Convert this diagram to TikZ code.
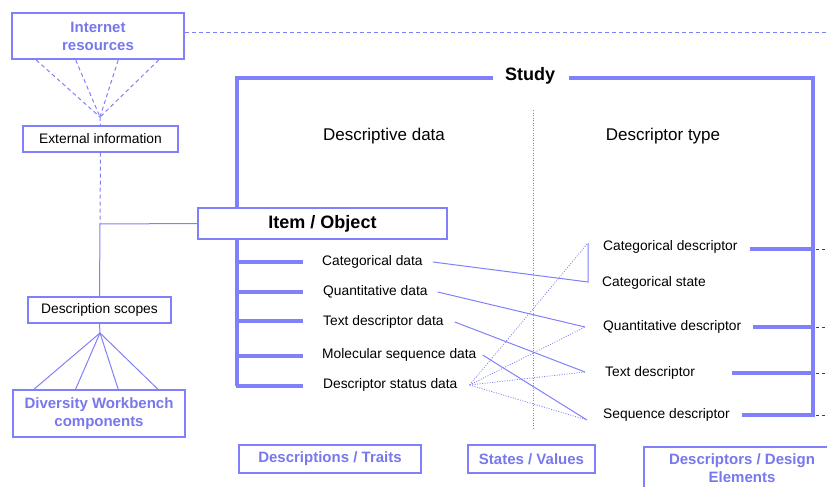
\documentclass[tikz,border=0pt]{standalone}
\usepackage{fontspec}
\setmainfont{Liberation Sans}
\usepackage{tikz}
\usetikzlibrary{calc}

\definecolor{dwline}{RGB}{128,128,250}
\definecolor{dwtext}{RGB}{120,120,238}

\begin{document}
\begin{tikzpicture}[x=1pt,y=-1pt,
	box/.style={draw=dwline,line width=1.2pt,fill=white,inner sep=0pt},
	bluebox/.style={box,text=dwtext,align=center,font=\bfseries\fontsize{15}{18}\selectfont},
	lbl/.style={anchor=west,inner sep=0pt,font=\fontsize{13.8}{15}\selectfont},
	thickln/.style={dwline,line width=4.5pt},
	thinln/.style={dwline,line width=1pt},
	dashln/.style={dwline,line width=1pt,dash pattern=on 4pt off 3pt},
	dotln/.style={dwline,line width=0.8pt,dash pattern=on 1pt off 1.5pt}]
\useasboundingbox (0,0) rectangle (827,487);
\clip (0,0) rectangle (827,487);

% left column
\node[bluebox,line width=2pt,minimum width=172pt,minimum height=46pt] (inet) at (98,36) {Internet\\resources};
\node[box,minimum width=155pt,minimum height=26pt,font=\fontsize{13.8}{15}\selectfont] (extinfo) at (100.5,139) {External information};
\node[box,minimum width=143pt,minimum height=26pt,font=\fontsize{13.8}{15}\selectfont] (scopes) at (99.5,310) {Description scopes};
\node[bluebox,line width=2pt,minimum width=172pt,minimum height=47pt] (dwb) at (99,413.5) {Diversity Workbench\\components};

\coordinate (inetfan) at (100,117);
\coordinate (scopefan) at (100,333);
\coordinate (itemjoin) at (100,224);
\coordinate (inetout) at (827,33);

\draw[dashln] ([yshift=3pt]inet.east) -- (inetout);
\foreach \f in {0.145,0.372,0.616,0.849}
	\draw[dashln] ($(inet.south west)!\f!(inet.south east)$) -- (inetfan);
\draw[dashln] (inetfan) -- (extinfo.north);
\draw[dashln] (extinfo.south) -- (itemjoin);
\draw[thinln] (itemjoin) -- (scopes.north);
\draw[thinln] (scopes.south) -- (scopefan);
\foreach \f in {0.128,0.366,0.61,0.837}
	\draw[thinln] (scopefan) -- ($(dwb.north west)!\f!(dwb.north east)$);

% study frame
\node[font=\bfseries\fontsize{18}{20}\selectfont,inner sep=0pt] (study) at (530,76) {Study};
\draw[thickln] ([xshift=-12pt,yshift=-2pt]study.west) -| (237,386);
\draw[thickln] ([xshift=14pt,yshift=-2pt]study.east) -| (813,415);

\node[font=\fontsize{17}{19}\selectfont] (descdata) at (384,136) {Descriptive data};
\node[font=\fontsize{17}{19}\selectfont] (desctype) at (663,136) {Descriptor type};
\draw[dotln] (533,110) -- (533,428);

\node[box,minimum width=249pt,minimum height=31pt,font=\bfseries\fontsize{18}{20}\selectfont] (item) at (322.5,223.5) {Item / Object};
\draw[thinln] (itemjoin) -- (item.west);

% descriptive data
\foreach \ya in {262,292,321,356,386}
	\draw[thickln] (236,\ya) -- (303,\ya);
\node[lbl] (catdata) at (322,262) {Categorical data};
\node[lbl] (quadata) at (323,292) {Quantitative data};
\node[lbl] (txtdata) at (323,322) {Text descriptor data};
\node[lbl] (seqdata) at (322,355) {Molecular sequence data};
\node[lbl] (statdata) at (323,385) {Descriptor status data};

% descriptor types
\node[lbl] (catdesc) at (603,247) {Categorical descriptor};
\node[lbl] (catstate) at (602,283) {Categorical state};
\node[lbl] (quadesc) at (603,327) {Quantitative descriptor};
\node[lbl] (txtdesc) at (605,373) {Text descriptor};
\node[lbl] (seqdesc) at (603,415) {Sequence descriptor};
\foreach \xa/\ya in {750/249,753/327,732/373,742/415} {
	\draw[thickln] (\xa,\ya) -- (815,\ya);
	\draw[black!75,line width=0.8pt,dash pattern=on 3pt off 3pt] (816,\ya) -- (827,\ya);
}

% links
\coordinate (cattop) at (588,243);
\coordinate (catend) at (588,282);
\coordinate (quaend) at (585,327);
\coordinate (txtend) at (585,372);
\coordinate (seqend) at (587,420);
\draw[thinln] ([xshift=10pt]catdata.east) -- (catend) -- (cattop);
\draw[thinln] ([xshift=10pt]quadata.east) -- (quaend);
\draw[thinln] ([xshift=11pt]txtdata.east) -- (txtend);
\draw[thinln] ([xshift=6pt]seqdata.east) -- (seqend);
\coordinate (statfrom) at ([xshift=12pt]statdata.east);
\foreach \t in {cattop,quaend,txtend,seqend}
	\draw[dotln] (statfrom) -- (\t);

% bottom labels
\node[bluebox,minimum width=182pt,minimum height=28pt] (traits) at (330,459) {Descriptions / Traits};
\node[bluebox,minimum width=127pt,minimum height=28pt] (states) at (531.5,459) {States / Values};
\node[bluebox,minimum width=196pt,minimum height=50pt,text depth=8pt] (design) at (742,472) {Descriptors / Design\\Elements};

\end{tikzpicture}
\end{document}
